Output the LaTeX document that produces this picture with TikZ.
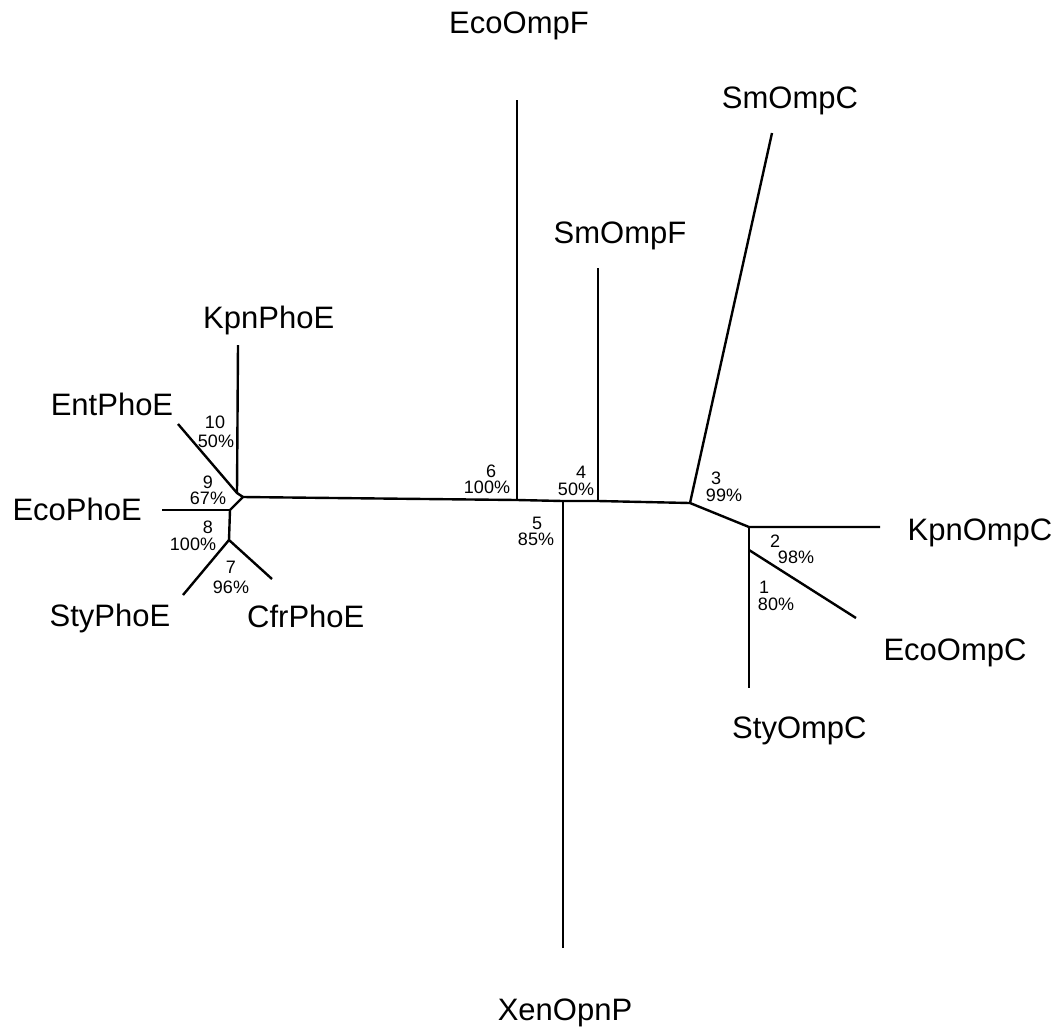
\documentclass[tikz,border=0pt]{standalone}
\usepackage{fontspec}
\setmainfont{Liberation Sans}
\begin{document}
\begin{tikzpicture}[x=1pt,y=-1pt,
  br/.style={line width=2.4pt},
  taxon/.style={font=\fontsize{31}{33}\selectfont, inner sep=0pt, anchor=base},
  supp/.style={font=\fontsize{18}{18}\selectfont, inner sep=0pt, anchor=base}]
\useasboundingbox (0,0) rectangle (1062,1034);
% internal nodes
\coordinate (a) at (237,493);
\coordinate (b) at (243,497);
\coordinate (c) at (230,510);
\coordinate (n7) at (229,540);
\coordinate (n6) at (517,500);
\coordinate (n5) at (563,501);
\coordinate (n4) at (598,501);
\coordinate (n3) at (690,503);
\coordinate (n2) at (749,527);
\coordinate (n1) at (749,550);
% leaf ends
\coordinate (lKpnPhoE) at (238,345);
\coordinate (lEntPhoE) at (178,424);
\coordinate (lEcoPhoE) at (162,510);
\coordinate (lStyPhoE) at (183,595);
\coordinate (lCfrPhoE) at (272,579);
\coordinate (lEcoOmpF) at (517,100);
\coordinate (lXenOpnP) at (563,948);
\coordinate (lSmOmpF) at (598,268);
\coordinate (lSmOmpC) at (772,133);
\coordinate (lKpnOmpC) at (880,527);
\coordinate (lEcoOmpC) at (856,618);
\coordinate (lStyOmpC) at (749,688);
% branches
\draw[br] (lKpnPhoE) -- (a);
\draw[br] (lEntPhoE) -- (a) -- (b) -- (c) -- (n7);
\draw[br] (lEcoPhoE) -- (c);
\draw[br] (lStyPhoE) -- (n7) -- (lCfrPhoE);
\draw[br] (b) -- (n6) -- (n5) -- (n4) -- (n3) -- (n2) -- (lKpnOmpC);
\draw[br] (lEcoOmpF) -- (n6);
\draw[br] (lXenOpnP) -- (n5);
\draw[br] (lSmOmpF) -- (n4);
\draw[br] (lSmOmpC) -- (n3);
\draw[br] (n2) -- (n1) -- (lStyOmpC);
\draw[br] (n1) -- (lEcoOmpC);
% taxon labels
\node[taxon] (tEcoOmpF) at (519,33) {EcoOmpF};
\node[taxon] (tSmOmpC) at (790,108) {SmOmpC};
\node[taxon] (tSmOmpF) at (620,243) {SmOmpF};
\node[taxon, anchor=base west] (tKpnPhoE) at (203,328) {KpnPhoE};
\node[taxon] (tEntPhoE) at (112,415) {EntPhoE};
\node[taxon, anchor=base east] (tEcoPhoE) at (142,520) {EcoPhoE};
\node[taxon] (tStyPhoE) at (110,626) {StyPhoE};
\node[taxon, anchor=base west] (tCfrPhoE) at (247,627) {CfrPhoE};
\node[taxon] (tKpnOmpC) at (980,540) {KpnOmpC};
\node[taxon] (tEcoOmpC) at (955,660) {EcoOmpC};
\node[taxon, anchor=base west] (tStyOmpC) at (732,738) {StyOmpC};
\node[taxon] (tXenOpnP) at (565,1020) {XenOpnP};
% support labels
\node[supp] (s10a) at (215,428) {10};
\node[supp] (s10b) at (216,447) {50\%};
\node[supp] (s9a) at (208,488) {9};
\node[supp] (s9b) at (208,504) {67\%};
\node[supp] (s8a) at (208,533) {8};
\node[supp] (s8b) at (193,550) {100\%};
\node[supp] (s7a) at (231,573) {7};
\node[supp] (s7b) at (231,593) {96\%};
\node[supp] (s6a) at (491,477) {6};
\node[supp] (s6b) at (487,493) {100\%};
\node[supp] (s4a) at (581,478) {4};
\node[supp] (s4b) at (576,495) {50\%};
\node[supp] (s5a) at (537,529) {5};
\node[supp] (s5b) at (536,545) {85\%};
\node[supp] (s3a) at (716,484) {3};
\node[supp] (s3b) at (724,501) {99\%};
\node[supp] (s2a) at (775,547) {2};
\node[supp] (s2b) at (796,563) {98\%};
\node[supp] (s1a) at (764,593) {1};
\node[supp] (s1b) at (776,610) {80\%};
\end{tikzpicture}
\end{document}
